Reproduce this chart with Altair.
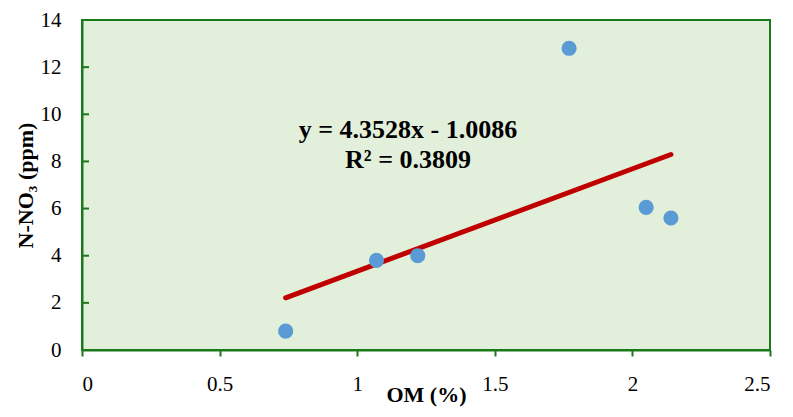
import altair as alt
import pandas as pd

om = [0.74, 1.07, 1.22, 1.77, 2.05, 2.14]
no3 = [0.8, 3.8, 4.0, 12.8, 6.05, 5.6]
eq_lines = ["y = 4.3528x - 1.0086", "R² = 0.3809"]
x_ticks = [0, 0.5, 1, 1.5, 2, 2.5]
y_ticks = [0, 2, 4, 6, 8, 10, 12, 14]

df = pd.DataFrame({"OM": om, "NO3": no3})
green = "#1b7a1b"
font = "Liberation Serif"

xscale = alt.Scale(domain=[0, 2.5], nice=False)
yscale = alt.Scale(domain=[0, 14], nice=False)

xs = alt.X("OM:Q", scale=xscale,
           axis=alt.Axis(values=x_ticks, title="OM (%)", grid=False,
                         labelExpr="datum.value == 0 ? '0' : format(datum.value, '.1~f')",
                         labelPadding=17, titlePadding=-10, tickSize=6))
yaxis = alt.Axis(values=y_ticks, title="N-NO₃ (ppm)", grid=False, ticks=False,
                 labelPadding=21, titlePadding=3)
ys = alt.Y("NO3:Q", scale=yscale, axis=yaxis)

points = alt.Chart(df).mark_point(filled=True, opacity=1, color="#5b9bd5", size=230).encode(x=xs, y=ys)

trend = alt.Chart(df).transform_regression("OM", "NO3").mark_line(
    color="#c00000", strokeWidth=5, strokeCap="round").encode(x=xs, y=ys)

ytick_df = pd.DataFrame({"NO3": y_ticks})
inner_ticks = alt.Chart(ytick_df).mark_rule(color=green, strokeWidth=2).encode(
    y=ys, x=alt.value(0), x2=alt.value(7))

eq_df = pd.DataFrame({"t": [eq_lines]})
eq = alt.Chart(eq_df).mark_text(font=font, fontSize=26, fontWeight="bold", color="black",
                               align="center", baseline="middle", lineHeight=30).encode(
    text="t", x=alt.value(326), y=alt.value(110))

chart = alt.layer(trend, points, inner_ticks, eq).properties(
    width=688, height=330,
    background="white",
    autosize=alt.AutoSizeParams(type="none"),
    padding={"left": 74, "top": 12, "right": 10, "bottom": 59},
).configure_view(fill="#e2efda", stroke=green, strokeWidth=2).configure_axis(
    domainColor=green, domainWidth=2, tickColor=green, tickWidth=2,
    labelFont=font, labelFontSize=21, labelColor="black",
    titleFont=font, titleFontSize=22, titleFontWeight="bold", titleColor="black",
)

chart.save("out.html", embed_options={"renderer": "svg", "actions": False})
